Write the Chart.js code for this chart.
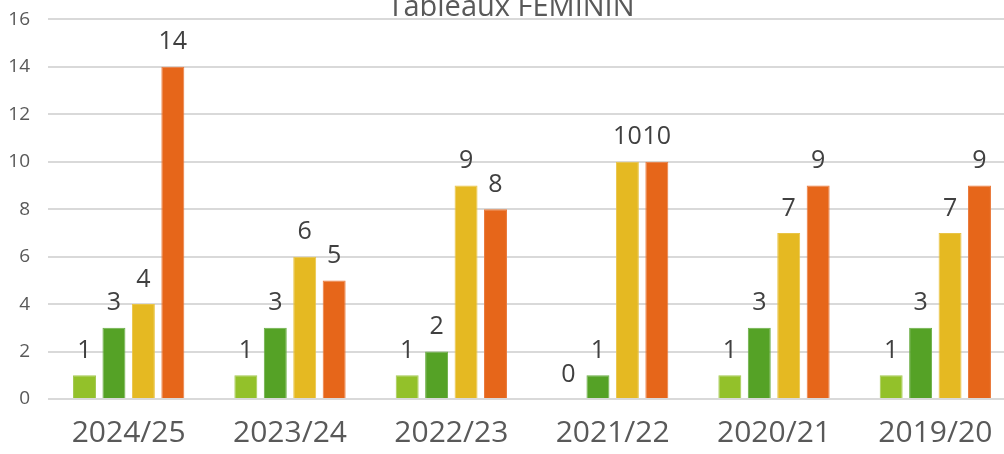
<!DOCTYPE html>
<html>
<head>
<meta charset="utf-8">
<script src="https://cdn.jsdelivr.net/npm/chart.js@4/dist/chart.umd.min.js"></script>
<style>
	html, body { margin: 0; padding: 0; background: #fff; overflow: hidden; }
	#wrap { position: absolute; left: 0; top: -10px; width: 1020px; height: 464px; }
</style>
</head>
<body>
<div id="wrap"><canvas id="c" width="1020" height="464"></canvas></div>
<script>
let saisons = ['2024/25', '2023/24', '2022/23', '2021/22', '2020/21', '2019/20'];
let serie1 = [1, 1, 1, 0, 1, 1];
let serie2 = [3, 3, 2, 1, 3, 3];
let serie3 = [4, 6, 9, 10, 7, 7];
let serie4 = [14, 5, 8, 10, 9, 9];
let titre = 'Tableaux FEMININ';

let police = '"Open Sans", "Noto Sans", sans-serif';

// étiquettes de valeurs au-dessus des barres
let etiquettes = {
	id: 'etiquettes',
	afterDatasetsDraw(chart){
		let ctx = chart.ctx;
		ctx.save();
		ctx.font = '25px ' + police;
		ctx.fillStyle = '#404040';
		ctx.textAlign = 'center';
		ctx.textBaseline = 'bottom';
		chart.data.datasets.forEach((ds, i) => {
			let meta = chart.getDatasetMeta(i);
			meta.data.forEach((bar, j) => {
				ctx.fillText(ds.data[j], bar.x, bar.y - 12);
			});
		});
		ctx.restore();
	}
};

// titre coupé en haut
let titrePlugin = {
	id: 'titrePlugin',
	afterDraw(chart){
		let ctx = chart.ctx;
		ctx.save();
		ctx.font = '29px ' + police;
		ctx.fillStyle = '#595959';
		ctx.textAlign = 'center';
		ctx.textBaseline = 'alphabetic';
		ctx.fillText(titre, 511, chart.chartArea.top - 3);
		ctx.restore();
	}
};

function serie(data, couleur, bord){
	return {
		data: data,
		backgroundColor: couleur,
		borderColor: bord,
		borderWidth: 1,
		categoryPercentage: 0.73,
		barPercentage: 0.78
	};
}

let chart = new Chart(document.getElementById('c'), {
	type: 'bar',
	data: {
		labels: saisons,
		datasets: [
			serie(serie1, '#93c12a', '#a3c950'),
			serie(serie2, '#55a226', '#6aae45'),
			serie(serie3, '#e5b922', '#e9c446'),
			serie(serie4, '#e6661a', '#ea7a3c')
		]
	},
	options: {
		responsive: false,
		animation: false,
		devicePixelRatio: 1,
		layout: { padding: { top: 9, right: 4, left: 0, bottom: 0 } },
		plugins: {
			legend: { display: false },
			tooltip: { enabled: false },
			title: { display: false }
		},
		scales: {
			x: {
				grid: { display: false },
				border: { display: false },
				ticks: { color: '#595959', font: { family: police, size: 30 }, padding: 8 },
				afterFit(scale){ scale.height = 55; }
			},
			y: {
				min: 0,
				max: 16,
				border: { display: false },
				grid: { color: '#d9d9d9', lineWidth: 2, drawTicks: false },
				ticks: { stepSize: 2, color: '#595959', font: { family: police, size: 19 }, padding: 18 },
				afterFit(scale){ scale.width = 48; }
			}
		}
	},
	plugins: [etiquettes, titrePlugin]
});
</script>
</body>
</html>
